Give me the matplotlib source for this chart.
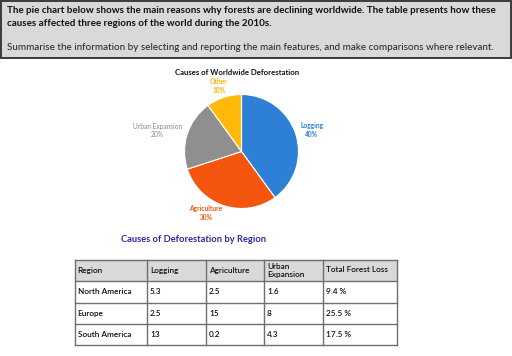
import numpy as np
import matplotlib
matplotlib.use("Agg")
import matplotlib.pyplot as plt
from matplotlib.patches import Rectangle

# ---------------- data ----------------
header_lines = [
    "The pie chart below shows the main reasons why forests are declining worldwide. The table presents how these",
    "causes affected three regions of the world during the 2010s.",
    "Summarise the information by selecting and reporting the main features, and make comparisons where relevant.",
]
pie_title = "Causes of Worldwide Deforestation"
slices = ["Logging", "Agriculture", "Urban Expansion", "Other"]
shares = [40, 30, 20, 10]
slice_colors = ["#2e80d6", "#f4560f", "#8f8f8f", "#ffb90a"]

table_title = "Causes of Deforestation by Region"
columns = ["Region", "Logging", "Agriculture", "Urban\nExpansion", "Total Forest Loss"]
regions = ["North America", "Europe", "South America"]
logging = ["5.3", "2.5", "13"]
agriculture = ["2.5", "15", "0.2"]
urban = ["1.6", "8", "4.3"]
total_loss = [9.4, 25.5, 17.5]

# ---------------- figure ----------------
W, H = 512, 356
fig = plt.figure(figsize=(W / 100, H / 100), dpi=100)
fig.patch.set_facecolor("white")
ax = fig.add_axes([0, 0, 1, 1])
ax.set_xlim(0, W)
ax.set_ylim(H, 0)
ax.axis("off")
renderer = fig.canvas.get_renderer()
FONT = "Lato"


def fit(t, target_w):
    w = t.get_window_extent(renderer=renderer).width
    t.set_fontsize(t.get_fontsize() * target_w / w)
    return t.get_fontsize()


# header box
ax.add_patch(Rectangle((1, 0.5), 509.5, 57, facecolor="#d9d9d9",
                       edgecolor="#3a3a3a", linewidth=1.4, zorder=1))
t1 = ax.text(7, 10.5, header_lines[0], fontsize=10, fontweight="bold",
             family=FONT, va="center", ha="left", color="#111111", zorder=2)
fs = fit(t1, 490)
ax.text(7, 23.5, header_lines[1], fontsize=fs, fontweight="bold",
        family=FONT, va="center", ha="left", color="#111111", zorder=2)
t3 = ax.text(7, 47.5, header_lines[2], fontsize=10, family=FONT,
             va="center", ha="left", color="#222222", zorder=2)
fit(t3, 484)

# pie title
tt = ax.text(237, 72.5, pie_title, fontsize=10, fontweight="bold",
             family=FONT, ha="center", va="center", color="#111111")
fit(tt, 124)

# pie
cx, cy, r = 241.5, 151.5, 57
pax = fig.add_axes([(cx - r) / W, (H - cy - r) / H, 2 * r / W, 2 * r / H])
wedges, _ = pax.pie(shares, colors=slice_colors, startangle=90, counterclock=False,
                    wedgeprops=dict(edgecolor="white", linewidth=0.8))
pax.set_xlim(-1, 1)
pax.set_ylim(-1, 1)
pax.set_aspect("auto")
pax.axis("off")

label_dist = [1.29, 1.25, 1.52, 1.21]
label_angle_shift = [-1, -12, 4, 1]
lab_fs = None
for w, name, val, col, d, sh in zip(wedges, slices, shares, slice_colors,
                                     label_dist, label_angle_shift):
    th = np.deg2rad((w.theta1 + w.theta2) / 2 + sh)
    lx = cx + d * r * np.cos(th)
    ly = cy - d * r * np.sin(th)
    txtcol = "#8a8a8a" if name == "Urban Expansion" else col
    if name == "Other":
        txtcol = "#ffb000"
    t = ax.text(lx, ly - 4.3, name, fontsize=10,
                fontweight="normal" if name == "Urban Expansion" else "bold",
                family=FONT, ha="center", va="center", color=txtcol)
    if lab_fs is None:
        lab_fs = fit(t, 23)
    else:
        t.set_fontsize(lab_fs)
    ax.text(lx, ly + 4.3, f"{val}%", fontsize=lab_fs,
            fontweight="normal" if name == "Urban Expansion" else "bold",
            family=FONT, ha="center", va="center", color=txtcol)

# table title
tb = ax.text(194, 240, table_title, fontsize=10, fontweight="bold", family=FONT,
             ha="center", va="center", color="#2b2ba6")
fit(tb, 145)

# table
col_x = [74.5, 147, 206, 264, 322.5, 397]
row_y = [259.5, 281, 302.5, 324, 345]
ax.add_patch(Rectangle((col_x[0], row_y[0]), col_x[-1] - col_x[0], row_y[1] - row_y[0],
                       facecolor="#d9d9d9", edgecolor="none", zorder=1))
for x in col_x:
    ax.plot([x, x], [row_y[0], row_y[-1]], color="#6f6f6f", lw=1.0, zorder=3)
for y in row_y:
    ax.plot([col_x[0], col_x[-1]], [y, y], color="#6f6f6f", lw=1.0, zorder=3)

probe = ax.text(col_x[4] + 3, 270, columns[4], fontsize=10, family=FONT,
                fontweight="semibold", ha="left", va="center", color="#111111", zorder=4)
cell_fs = fit(probe, 63)
for j, c in enumerate(columns[:4]):
    ax.text(col_x[j] + 3, (row_y[0] + row_y[1]) / 2, c, fontsize=cell_fs, family=FONT,
            fontweight="semibold", ha="left", va="center", color="#111111", zorder=4,
            linespacing=1.15)

rows = list(zip(regions, logging, agriculture, urban, [f"{v} %" for v in total_loss]))
for i, row in enumerate(rows):
    yc = (row_y[i + 1] + row_y[i + 2]) / 2
    for j, v in enumerate(row):
        ax.text(col_x[j] + 3, yc, v, fontsize=cell_fs, family=FONT, fontweight="semibold",
                ha="left", va="center", color="#111111", zorder=4)

fig.savefig("out.png", dpi=100, facecolor="white")
